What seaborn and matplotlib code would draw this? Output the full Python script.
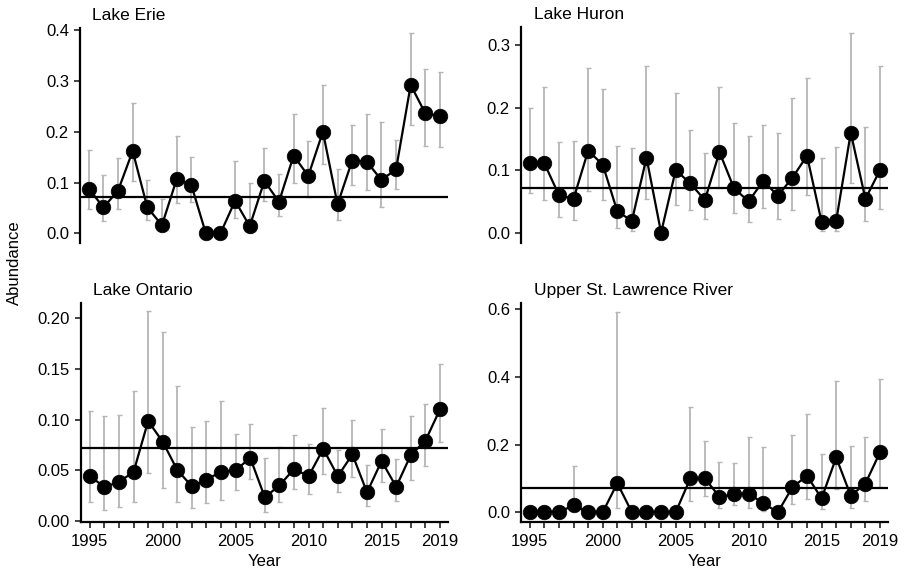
import numpy as np
import pandas as pd
import matplotlib
matplotlib.use("Agg")
import matplotlib.pyplot as plt
import seaborn as sns

years = list(range(1995, 2020))

erie_mean = [0.088, 0.051, 0.084, 0.162, 0.051, 0.016, 0.106, 0.096, 0.0, 0.0, 0.064, 0.014, 0.103,
             0.062, 0.153, 0.113, 0.200, 0.057, 0.143, 0.141, 0.105, 0.126, 0.292, 0.236, 0.231]
erie_lo = [0.047, 0.024, 0.047, 0.102, 0.026, 0.004, 0.059, 0.062, 0.0, 0.0, 0.030, 0.003, 0.064,
           0.034, 0.100, 0.072, 0.136, 0.026, 0.095, 0.085, 0.051, 0.087, 0.214, 0.172, 0.170]
erie_hi = [0.164, 0.115, 0.148, 0.256, 0.105, 0.067, 0.192, 0.150, 0.0, 0.0, 0.143, 0.100, 0.168,
           0.117, 0.234, 0.182, 0.292, 0.127, 0.213, 0.234, 0.220, 0.184, 0.395, 0.323, 0.317]

huron_mean = [0.112, 0.111, 0.060, 0.054, 0.131, 0.109, 0.034, 0.019, 0.120, 0.0, 0.100, 0.079, 0.052,
              0.129, 0.071, 0.050, 0.083, 0.059, 0.088, 0.123, 0.017, 0.019, 0.160, 0.054, 0.100]
huron_lo = [0.064, 0.052, 0.025, 0.020, 0.066, 0.052, 0.007, 0.003, 0.054, 0.0, 0.045, 0.037, 0.022,
            0.071, 0.031, 0.017, 0.039, 0.022, 0.036, 0.061, 0.002, 0.003, 0.080, 0.018, 0.038]
huron_hi = [0.200, 0.233, 0.145, 0.147, 0.263, 0.230, 0.139, 0.135, 0.267, 0.0, 0.223, 0.165, 0.128,
            0.233, 0.175, 0.155, 0.173, 0.160, 0.215, 0.247, 0.119, 0.137, 0.320, 0.169, 0.267]

ontario_mean = [0.0445, 0.033, 0.0385, 0.048, 0.0985, 0.078, 0.050, 0.034, 0.0405, 0.0485, 0.050, 0.062,
                0.023, 0.035, 0.051, 0.044, 0.071, 0.044, 0.0655, 0.028, 0.059, 0.0335, 0.065, 0.079, 0.110]
ontario_lo = [0.018, 0.011, 0.014, 0.018, 0.047, 0.032, 0.018, 0.013, 0.017, 0.020, 0.030, 0.041,
              0.0086, 0.018, 0.031, 0.026, 0.046, 0.028, 0.043, 0.0145, 0.038, 0.019, 0.040, 0.054, 0.078]
ontario_hi = [0.108, 0.103, 0.104, 0.128, 0.207, 0.187, 0.133, 0.093, 0.099, 0.118, 0.086, 0.0955,
              0.062, 0.073, 0.085, 0.076, 0.111, 0.070, 0.0995, 0.055, 0.091, 0.0605, 0.103, 0.115, 0.1545]

usl_mean = [0.0, 0.0, 0.0, 0.021, 0.0, 0.0, 0.086, 0.0, 0.0, 0.0, 0.0, 0.100, 0.100,
            0.046, 0.053, 0.055, 0.027, 0.0, 0.074, 0.108, 0.041, 0.162, 0.049, 0.085, 0.177]
usl_lo = [0.0, 0.0, 0.0, 0.003, 0.0, 0.0, 0.012, 0.0, 0.0, 0.0, 0.0, 0.034, 0.048,
          0.014, 0.021, 0.014, 0.005, 0.0, 0.024, 0.040, 0.010, 0.068, 0.014, 0.033, 0.076]
usl_hi = [0.0, 0.0, 0.0, 0.138, 0.0, 0.0, 0.593, 0.0, 0.0, 0.0, 0.0, 0.312, 0.211,
          0.148, 0.145, 0.224, 0.194, 0.0, 0.229, 0.290, 0.172, 0.389, 0.197, 0.224, 0.394]

reference_level = 0.072

panel_titles = ["Lake Erie", "Lake Huron", "Lake Ontario", "Upper St. Lawrence River"]
x_tick_labels = [1995, 2000, 2005, 2010, 2015, 2019]
y_ticks = [
    [0.0, 0.1, 0.2, 0.3, 0.4],
    [0.0, 0.1, 0.2, 0.3],
    [0.00, 0.05, 0.10, 0.15, 0.20],
    [0.0, 0.2, 0.4, 0.6],
]
y_fmt = ["{:.1f}", "{:.1f}", "{:.2f}", "{:.1f}"]
y_lims = [(-0.019, 0.404), (-0.0165, 0.329), (-0.0013, 0.2152), (-0.0287, 0.6186)]

series = [
    (erie_mean, erie_lo, erie_hi),
    (huron_mean, huron_lo, huron_hi),
    (ontario_mean, ontario_lo, ontario_hi),
    (usl_mean, usl_lo, usl_hi),
]

sns.set_theme(style="white")
plt.rcParams['font.family'] = ['Liberation Sans', 'DejaVu Sans']

fig = plt.figure(figsize=(9.12, 5.82), dpi=100)
W, H = 912, 582
boxes = [
    (80, 28, 448, 243),
    (521, 27, 888, 243),
    (81, 303, 448, 522),
    (521, 303, 888, 522),
]

for i, (box, title, (m, lo, hi)) in enumerate(zip(boxes, panel_titles, series)):
    l, t, r, b = box
    ax = fig.add_axes([l / W, 1 - b / H, (r - l) / W, (b - t) / H])
    df = pd.DataFrame({"Year": years, "Abundance": m, "lo": lo, "hi": hi})
    yerr = np.array([df["Abundance"] - df["lo"], df["hi"] - df["Abundance"]])
    ax.errorbar(df["Year"], df["Abundance"], yerr=yerr, fmt="none", ecolor="#b5b5b5",
                elinewidth=1.3, capsize=1.8, capthick=1.0, zorder=1)
    ax.axhline(reference_level, color="black", linewidth=1.6, zorder=2)
    sns.lineplot(data=df, x="Year", y="Abundance", ax=ax, color="black", linewidth=1.6,
                 marker="o", markersize=10.5, markeredgecolor="black", markeredgewidth=0.5, zorder=3)
    ax.set_xlim(1994.4, 2019.55)
    ax.set_ylim(*y_lims[i])
    ax.set_yticks(y_ticks[i])
    ax.set_yticklabels([y_fmt[i].format(v) for v in y_ticks[i]])
    ax.set_ylabel("")
    for s in ["top", "right"]:
        ax.spines[s].set_visible(False)
    ax.spines["left"].set_color("black")
    ax.spines["left"].set_linewidth(1.6)
    ax.tick_params(axis="y", left=True, length=4, width=1.2, color="#222222",
                   labelsize=12, pad=4, labelcolor="black")
    if i < 2:
        ax.spines["bottom"].set_visible(False)
        ax.set_xticks([])
        ax.set_xlabel("")
    else:
        ax.spines["bottom"].set_color("black")
        ax.spines["bottom"].set_linewidth(1.6)
        ax.set_xticks(years, minor=False)
        ax.set_xticklabels([str(y) if y in x_tick_labels else "" for y in years])
        ax.tick_params(axis="x", bottom=True, length=4, width=1.2, color="#222222",
                       labelsize=12, pad=5, labelcolor="black")
        ax.set_xlabel("Year", fontsize=12, labelpad=3, color="black")
    ax.annotate(title, xy=(0, 1), xycoords="axes fraction", xytext=(9, 9),
                textcoords="offset points", ha="left", va="center", fontsize=12.5, color="black")

fig.text(14 / W, 1 - 263 / H, "Abundance", rotation=90, ha="center", va="center",
         fontsize=12, color="black")

fig.savefig("out.png", dpi=100)
